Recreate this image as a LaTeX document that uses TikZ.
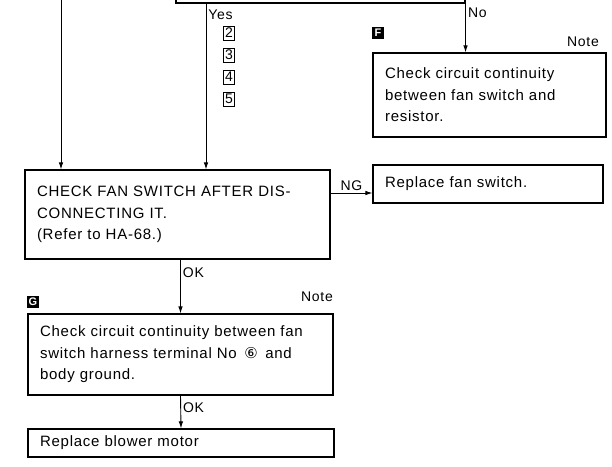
\documentclass[tikz,border=0pt]{standalone}
\usepackage{fontspec}
\setmainfont{Liberation Sans}[LetterSpace=5,WordSpace=1.5]
\newfontfamily\circfont{DejaVu Sans}
\usepackage{tikz}
\usetikzlibrary{arrows.meta,positioning}

\tikzset{
  stepbox/.style={draw, line width=1.1pt, rectangle, align=left, inner xsep=12pt, inner ysep=0pt,
    font=\fontsize{15pt}{21.5pt}\selectfont},
  flow/.style={-{Latex[length=7pt,width=4.5pt]}, line width=0.9pt},
  lbl/.style={font=\fontsize{14pt}{16pt}\selectfont, inner sep=2pt},
  marker/.style={fill=black, text=white, font=\fontsize{11pt}{11pt}\selectfont\bfseries,
    minimum size=12pt, inner sep=0pt},
  numbox/.style={draw, line width=0.6pt, inner sep=0.8pt, minimum width=11pt, minimum height=14pt,
    font=\fontsize{14pt}{14pt}\selectfont}
}

\begin{document}
\begin{tikzpicture}[x=1pt, y=-1pt]
  \useasboundingbox (0,0) rectangle (612,466);
  % boxes
  \node[stepbox, minimum width=289pt, minimum height=40pt] (top) at (320.5,-17) {};
  \node[stepbox, text width=281pt, minimum height=89pt] (check) at (177.5,214.5)
    {CHECK FAN SWITCH AFTER DIS-\\CONNECTING IT.\\(Refer to HA-68.)};
  \node[stepbox, text width=209pt, minimum height=84pt] (fbox) at (489.5,95)
    {Check circuit continuity\\between fan switch and\\resistor.};
  \node[stepbox, text width=206pt, minimum height=38pt] (rfan) at (488,184) {Replace fan switch.};
  \node[stepbox, text width=281pt, minimum height=81pt] (gbox) at (180.5,354.5)
    {Check circuit continuity between fan\\switch harness terminal No \,{\circfont ⑥}\, and\\body ground.};
  \node[stepbox, text width=282pt, minimum height=28pt] (rblow) at (181,443) {Replace blower motor};
  % marks and notes
  \node[marker] (fmark) at (378,33) {F};
  \node[marker] (gmark) at (33,302) {G};
  \node[lbl] (fnote) at (583,42) {Note};
  \node[lbl] (gnote) at (317,297) {Note};
  \node[numbox] (n2) at (229,33) {2};
  \node[numbox] (n3) at (229,55) {3};
  \node[numbox] (n4) at (229,77) {4};
  \node[numbox] (n5) at (229,99) {5};
  % connectors
  \coordinate (fromleft) at (61,0);
  \coordinate (yesout) at (206,3);
  \coordinate (ngpt) at (350,193);
  \draw[flow] (fromleft) -- (fromleft |- check.north);
  \draw[flow] (yesout) -- (yesout |- check.north) node[lbl, pos=0.07, right] {Yes};
  \draw[flow] (top.south east) -- (top.south east |- fbox.north) node[lbl, pos=0.18, right] {No};
  \draw[flow] (check.east |- ngpt) -- (rfan.west |- ngpt) node[lbl, midway, above] {NG};
  \draw[flow] (check.south -| gbox.north) -- (gbox.north) node[lbl, pos=0.25, right] {OK};
  \draw[flow] (gbox.south) -- (rblow.north) node[lbl, pos=0.38, right] {OK};
\end{tikzpicture}
\end{document}
